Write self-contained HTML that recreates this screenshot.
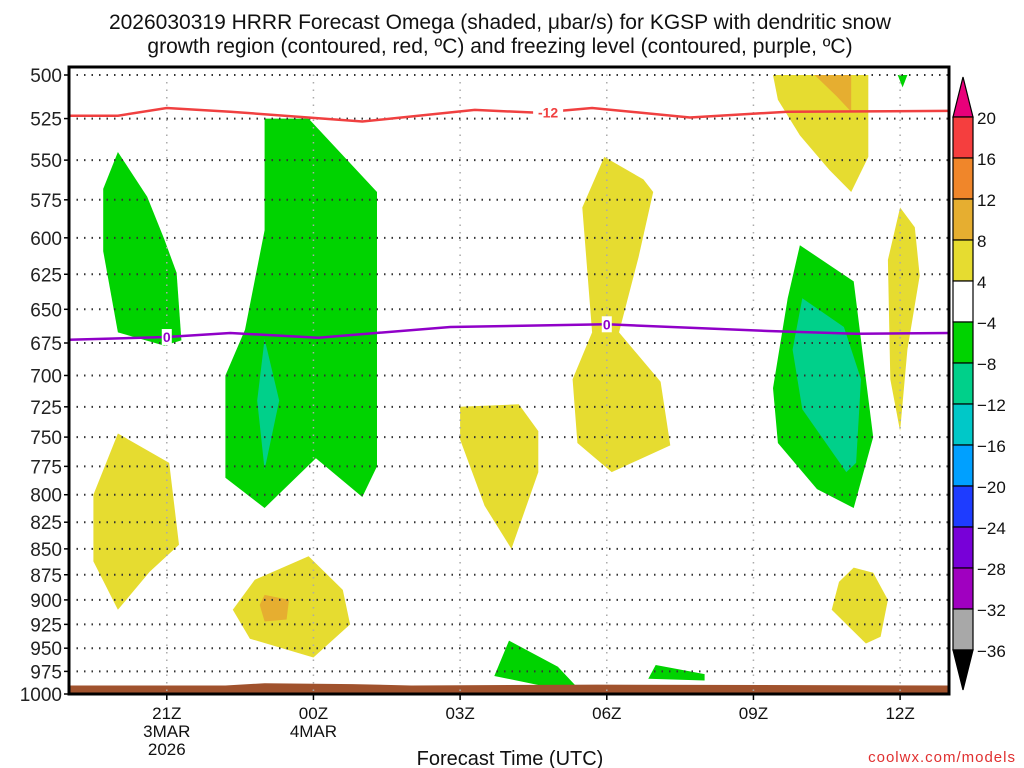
<!DOCTYPE html>
<html><head><meta charset="utf-8">
<style>
body{margin:0;background:#fff;}
svg{display:block;font-family:"Liberation Sans","DejaVu Sans",sans-serif;}
</style></head>
<body>
<svg id="chart" width="1024" height="768" viewBox="0 0 1024 768" xmlns="http://www.w3.org/2000/svg">
<text x="500" y="29" font-size="21" text-anchor="middle" fill="#111">2026030319 HRRR Forecast Omega (shaded, μbar/s) for KGSP with dendritic snow</text>
<text x="500" y="53" font-size="21" text-anchor="middle" fill="#111">growth region (contoured, red, ºC) and freezing level (contoured, purple, ºC)</text>
<g id="plot"></g>
<text x="510" y="765" font-size="20" text-anchor="middle" fill="#111">Forecast Time (UTC)</text>
<text x="1016" y="762" font-size="15" text-anchor="end" fill="#e03030" letter-spacing="1">coolwx.com/models</text>
</svg>
<script>
// ---- data ----
const pTicks=[500,525,550,575,600,625,650,675,700,725,750,775,800,825,850,875,900,925,950,975,1000];
const xTickHours=[21,24,27,30,33,36];
const xTickLabels=[["21Z","3MAR","2026"],["00Z","4MAR"],["03Z"],["06Z"],["09Z"],["12Z"]];
const cbLevels=[20,16,12,8,4,-4,-8,-12,-16,-20,-24,-28,-32,-36];
const cbColors=["#f53e3e","#f0862a","#e6ae30","#e6dc30","#ffffff","#00d300","#00d08a","#00c8c8","#00a0ff","#1e3cff","#7800d8","#a000c0","#a8a8a8"];
// shaded omega regions: [hour, pressure]
const greenA=[[20,545],[20.6,573],[20.95,601],[21.2,624],[21.3,673],[20.95,677],[20,667],[19.7,609],[19.7,568]];
const greenB=[[23,525],[23.9,525],[25.3,570],[25.3,775],[25,802],[24.05,768],[23,812],[22.2,785],[22.2,700],[22.6,665],[23,595]];
const tealB=[[23,672],[23.3,720],[23,778],[22.85,720]];
const yellowC=[[20,747],[21.05,772],[21.25,846],[20.65,872],[20,910],[19.5,862],[19.5,800]];
const yellowD=[[23.9,857],[24.6,890],[24.75,925],[24,960],[22.7,940],[22.35,910],[22.8,880]];
const orangeD=[[23,895],[23.5,900],[23.45,920],[23,922],[22.9,905]];
const yellowE=[[27,725],[28.2,723],[28.6,745],[28.6,780],[28.05,850],[27.5,810],[27,752]];
const yellowF=[[29.95,548],[30.75,562],[30.95,570],[30.65,613],[30.25,667],[31.1,705],[31.3,757],[30.1,780],[29.4,755],[29.3,703],[29.7,667],[29.5,580]];
const greenG=[[28,942],[29,970],[29.35,990],[28.6,990],[27.7,980]];
const greenH=[[31,968],[32,978],[32,985],[30.85,983]];
const greenI=[[33.95,605],[35.05,630],[35.3,703],[35.45,750],[35.05,812],[34.3,795],[33.5,755],[33.4,710],[33.7,642]];
const tealI=[[34,642],[34.85,663],[35.2,703],[35.1,772],[34.9,780],[34,727],[33.8,680]];
const yellowJ=[[33.4,500],[35.35,500],[35.35,548],[35,570],[34.55,556],[33.95,535],[33.5,514]];
const orangeJ=[[34.25,500],[35,500],[35,521],[34.7,512]];
const yellowK=[[36,580],[36.3,593],[36.4,626],[36.15,680],[36,745],[35.8,703],[35.75,615]];
const yellowL=[[35.05,868],[35.45,873],[35.75,900],[35.6,938],[35.3,945],[34.6,910],[34.75,882]];
const greenTop=[[35.95,500],[36.15,500],[36.05,507]];
// contour lines
const redHours=[19,20,21,22.3,25,27.3,28.6,29.7,31.7,33.7,37];
const redP=[523.3,523.3,518.8,521,526.7,519.9,521.6,518.8,524.4,521,520.5];
const purpleHours=[19,21,22.3,24.1,26.8,30,33.3,35.1,37];
const purpleP=[672.6,670.5,667.5,671,663,661,666,668,667.5];
const groundHours=[19,22.2,23,24.8,26,29.8,37];
const groundP=[990.5,990.5,988,989,990.5,989.5,990.5];
// ---- axes ----
const X0=69,X1=949,Y0=67,YB=694,Y500=75;
const H0=19,H1=37;
const xs=h=>X0+(h-H0)*(X1-X0)/(H1-H0);
const ys=p=>Y500+(YB-Y500)*Math.log(p/500)/Math.log(2);
const NS="http://www.w3.org/2000/svg";
const plot=document.getElementById('plot');
function mk(tag,attrs,parent){const e=document.createElementNS(NS,tag);for(const k in attrs)e.setAttribute(k,attrs[k]);(parent||plot).appendChild(e);return e;}
const pts=arr=>arr.map(d=>xs(d[0]).toFixed(1)+","+ys(d[1]).toFixed(1)).join(" ");
const defs=mk('defs',{});
const cp=mk('clipPath',{id:'pc'},defs);
mk('rect',{x:X0,y:Y0,width:X1-X0,height:YB-Y0},cp);
const g=mk('g',{'clip-path':'url(#pc)'});
const regions=[[greenA,"#00d300","green-region-a"],[greenB,"#00d300","green-region-b"],[tealB,"#00d08a","teal-region-b"],[yellowC,"#e6dc30","yellow-region-c"],[yellowD,"#e6dc30","yellow-region-d"],[orangeD,"#e6ae30","orange-region-d"],[yellowE,"#e6dc30","yellow-region-e"],[yellowF,"#e6dc30","yellow-region-f"],[greenG,"#00d300","green-region-g"],[greenH,"#00d300","green-region-h"],[greenI,"#00d300","green-region-i"],[tealI,"#00d08a","teal-region-i"],[yellowJ,"#e6dc30","yellow-region-j"],[orangeJ,"#e6ae30","orange-region-j"],[yellowK,"#e6dc30","yellow-region-k"],[yellowL,"#e6dc30","yellow-region-l"],[greenTop,"#00d300","green-region-top"]];
regions.forEach(r=>{
  const e=mk('polygon',{points:pts(r[0]),fill:r[1]},g);
  
  
});
const gp=groundHours.map((h,i)=>[h,groundP[i]]);
const ground=mk('polygon',{points:pts(gp)+" "+xs(37)+","+YB+" "+xs(19)+","+YB,fill:"#a0522d"},g);


pTicks.forEach(p=>{
  if(p<1000){const l=mk('line',{x1:X0,x2:X1,y1:ys(p),y2:ys(p),stroke:"#333","stroke-width":2,"stroke-dasharray":"1.5 6"},g);
  
  }
});
xTickHours.forEach(h=>{const l=mk('line',{x1:xs(h),x2:xs(h),y1:Y0,y2:YB,stroke:"#aaa","stroke-width":1.5,"stroke-dasharray":"1.5 6"},g);
  
  });
const red=mk('polyline',{points:pts(redHours.map((h,i)=>[h,redP[i]])),fill:"none",stroke:"#f04040","stroke-width":2.5},g);


const pur=mk('polyline',{points:pts(purpleHours.map((h,i)=>[h,purpleP[i]])),fill:"none",stroke:"#9000c8","stroke-width":2.5},g);


function clabel(h,p,t,c,name){
  const x=xs(h),y=ys(p);
  mk('rect',{x:x-(t.length*5),y:y-8,width:t.length*10,height:16,fill:"#fff"},g);
  const e=mk('text',{x:x,y:y+5,'font-size':14,'font-weight':'bold','text-anchor':'middle',fill:c},g);
  e.textContent=t;
  
  
}
clabel(28.8,521.5,"-12","#f04040","label-minus12");
clabel(21,670.5,"0","#9000c8","label-zero-a");
clabel(30,661,"0","#9000c8","label-zero-b");
const fr=mk('rect',{x:X0,y:Y0,width:X1-X0,height:YB-Y0,fill:"none",stroke:"#000","stroke-width":3});


pTicks.forEach(p=>{
  mk('line',{x1:X0-5,x2:X0,y1:ys(p),y2:ys(p),stroke:"#000","stroke-width":1.5});
  const t=mk('text',{x:X0-7,y:ys(p)+7,'font-size':19,'text-anchor':'end',fill:"#222"});
  t.textContent=p;
  
  
});
xTickHours.forEach((h,i)=>{
  mk('line',{x1:xs(h),x2:xs(h),y1:YB,y2:YB+6,stroke:"#000","stroke-width":1.5});
  xTickLabels[i].forEach((s,j)=>{
    const t=mk('text',{x:xs(h),y:YB+25+j*18,'font-size':17,'text-anchor':'middle',fill:"#111"});
    t.textContent=s;
    
    
  });
});
const CX=953,CW=20,CT=117,CS=41;
const up=mk('polygon',{points:`${CX},${CT} ${CX+CW},${CT} ${CX+CW/2},${CT-40}`,fill:"#e8007a",stroke:"#000","stroke-width":1.2});


cbColors.forEach((c,i)=>{
  const r=mk('rect',{x:CX,y:CT+i*CS,width:CW,height:CS,fill:c,stroke:"#000","stroke-width":1.2});
  
  
});
const yEnd=CT+cbColors.length*CS;
const dn=mk('polygon',{points:`${CX},${yEnd} ${CX+CW},${yEnd} ${CX+CW/2},${yEnd+40}`,fill:"#000",stroke:"#000","stroke-width":1.2});


cbLevels.forEach((v,i)=>{
  const t=mk('text',{x:CX+CW+4,y:CT+i*CS+7,'font-size':17,fill:"#111"});
  t.textContent=v<0?"\u2212"+(-v):String(v);
  
  
});
</script>
</body></html>
